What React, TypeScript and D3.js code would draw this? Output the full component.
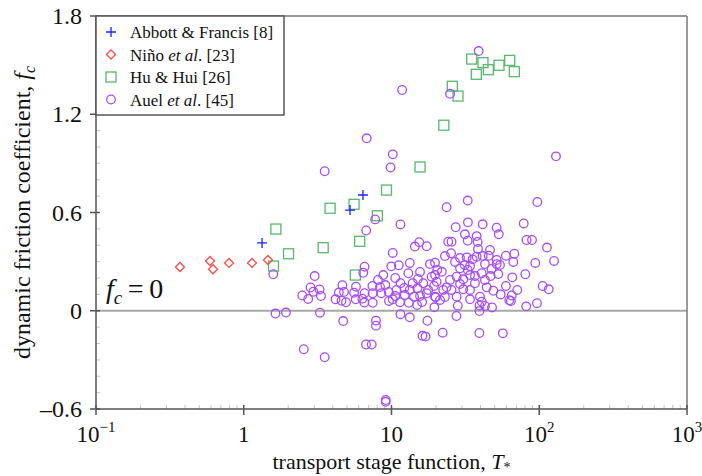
import * as d3 from 'd3';

const width = 702;
const height = 476;
const margin = {top: 16, right: 15, bottom: 67, left: 96};
const font = '"Liberation Serif", "Times New Roman", serif';

// series: Abbott & Francis [8]
const abbottT = [1.33, 5.24, 6.41];
const abbottF = [0.414, 0.615, 0.707];

// series: Niño et al. [23]
const ninoT = [0.370, 0.591, 0.619, 0.795, 1.137, 1.459];
const ninoF = [0.267, 0.304, 0.253, 0.292, 0.292, 0.310];

// series: Hu & Hui [26]
const huT = [1.65, 2.01, 1.59, 3.45, 3.84, 5.58, 8.02, 6.09, 9.25, 15.6, 22.6, 25.8, 28.2, 34.9, 37.5, 41.6, 45.2, 53.4, 63.1, 67.8, 5.69];
const huF = [0.499, 0.348, 0.273, 0.385, 0.626, 0.650, 0.580, 0.424, 0.737, 0.878, 1.133, 1.371, 1.311, 1.537, 1.444, 1.515, 1.472, 1.499, 1.529, 1.460, 0.218];

// series: Auel et al. [45]
const auelT = [
	6.79, 11.8, 38.9, 24.9, 10.2, 9.85, 129.8, 3.53, 32.8, 23.6, 97.0, 7.76, 11.5, 6.74, 14.4, 15.4, 17.3, 10.2,
	78.5, 82.0, 89.3, 112.8, 126, 94.0, 80.5, 105.5, 115.9, 96.5, 81.6,
	1.585, 3.02, 2.83, 3.26, 2.49, 2.73, 3.33, 2.96, 4.65, 4.40, 4.77, 4.18, 4.59, 4.92, 1.64, 1.93, 3.28, 4.71, 2.55, 3.53,
	6.57, 6.44, 5.58, 5.75, 6.57, 6.35, 6.55, 7.43, 7.46, 7.46, 8.80, 9.97, 11.2, 13.3, 15.6, 18.2,
	9.08, 9.57, 8.53, 10.8, 10.2, 11.5, 12.3, 11.4, 13.0, 13.9, 15.0, 13.1, 14.2, 16.4, 17.3, 16.1, 18.7, 19.4, 19.9, 19.5, 20.4, 5.73,
	7.85, 7.85, 11.5, 13.3, 17.5, 16.2, 17.0, 6.72, 7.35, 22.2, 27.5, 39.4, 39.3, 56.7, 9.14, 9.14,
	27.2, 32.9, 41.4, 51.5, 53.2, 31.4, 37.7, 38.3, 32.8, 24.2, 25.5, 25.3, 23.0, 19.7, 32.3, 35.4, 37.7, 41.4, 45.5, 51.5, 51.5,
	59.5, 67.8, 66.7, 31.3, 34.0, 29.1, 32.8, 40.8, 47.5, 52.8, 46.9, 21.9, 19.7, 27.6, 30.6, 36.7, 42.9, 44.1, 48.9, 59.5, 65.7,
	71.0, 54.8, 65.1, 62.7, 20.2, 23.6, 22.4, 25.5, 30.6, 27.6, 19.7, 34.0, 39.7, 40.8, 28.1, 39.4, 47.9, 42.9, 64.3,
	8.10, 10.6, 12.2, 15.1, 17.7, 9.62, 14.9, 21.3, 23.0, 24.9, 29.1, 34.0, 36.7, 26.9, 29.1, 42.9, 46.4, 54.2, 38.5, 34.0,
	8.36, 10.6, 13.3, 15.6
];
const auelF = [
	1.053, 1.348, 1.586, 1.325, 0.955, 0.875, 0.943, 0.852, 0.673, 0.632, 0.664, 0.558, 0.527, 0.490, 0.392, 0.419, 0.394, 0.353,
	0.533, 0.432, 0.432, 0.386, 0.304, 0.292, 0.223, 0.151, 0.131, 0.046, 0.027,
	0.223, 0.212, 0.142, 0.130, 0.093, 0.072, 0.090, 0.116, 0.156, 0.111, 0.115, 0.070, 0.061, 0.052, -0.017, -0.011, -0.012, -0.063, -0.235, -0.284,
	0.269, 0.232, 0.110, 0.147, 0.107, 0.074, 0.050, 0.151, 0.107, 0.049, 0.218, 0.271, 0.278, 0.292, 0.237, 0.285,
	0.157, 0.115, 0.107, 0.127, 0.070, 0.168, 0.096, 0.052, 0.229, 0.168, 0.137, 0.049, 0.086, 0.168, 0.107, 0.053, 0.208, 0.151, 0.082, 0.021, 0.249, 0.070,
	-0.060, -0.091, -0.021, -0.040, -0.061, -0.153, -0.158, -0.206, -0.206, -0.134, -0.032, -0.002, -0.136, -0.138, -0.545, -0.556,
	0.510, 0.540, 0.528, 0.507, 0.467, 0.467, 0.456, 0.420, 0.428, 0.422, 0.422, 0.351, 0.334, 0.293, 0.326, 0.314, 0.330, 0.334, 0.336, 0.310, 0.285,
	0.336, 0.348, 0.298, 0.279, 0.273, 0.259, 0.249, 0.229, 0.255, 0.224, 0.212, 0.238, 0.218, 0.208, 0.192, 0.168, 0.188, 0.143, 0.122, 0.151, 0.204,
	0.127, 0.100, 0.093, 0.064, 0.177, 0.143, 0.127, 0.127, 0.131, 0.086, 0.086, 0.070, 0.086, 0.055, 0.031, 0.032, 0.020, 0.029, 0.060,
	0.188, 0.200, 0.139, 0.194, 0.127, 0.060, 0.035, 0.066, 0.084, 0.188, 0.163, 0.127, 0.212, 0.298, 0.322, 0.285, 0.371, 0.280, 0.377, 0.218,
	0.145, 0.090, 0.127, 0.090
];

const xMajor = [0.1, 1, 10, 100, 1000];
const xMajorLabels = [['10', '\u22121'], ['1', ''], ['10', ''], ['10', '2'], ['10', '3']];
const yMajor = [-0.6, 0, 0.6, 1.2, 1.8];
const yMajorLabels = ['\u20130.6', '0', '0.6', '1.2', '1.8'];

const legendNames = ['Abbott & Francis [8]', 'Niño', 'Hu & Hui [26]', 'Auel'];

const colors = {abbott: '#1f1fff', nino: '#ff4a4a', hu: '#58b86c', auel: '#a64cf7'};

const Marker = ({kind, x, y}: {kind: string, x: number, y: number}) => {
	if (kind === 'abbott') {
		return <path d={`M${x - 5},${y}H${x + 5}M${x},${y - 5}V${y + 5}`} stroke={colors.abbott} strokeWidth={1.3} fill="none" />;
	}
	if (kind === 'nino') {
		return <path d={`M${x},${y - 4.5}L${x + 4.5},${y}L${x},${y + 4.5}L${x - 4.5},${y}Z`} stroke={colors.nino} strokeWidth={1.3} fill="none" />;
	}
	if (kind === 'hu') {
		return <rect x={x - 5} y={y - 5} width={10} height={10} stroke={colors.hu} strokeWidth={1.3} fill="none" />;
	}
	return <circle cx={x} cy={y} r={4.3} stroke={colors.auel} strokeWidth={1.3} fill="none" />;
};

export default function App() {
	const x = d3.scaleLog().domain([0.1, 1000]).range([margin.left, width - margin.right]);
	const y = d3.scaleLinear().domain([-0.6, 1.8]).range([height - margin.bottom, margin.top]);

	const x0 = margin.left;
	const x1 = width - margin.right;
	const yb = height - margin.bottom;
	const yt = margin.top;

	const xMinor: number[] = [];
	[0.1, 1, 10, 100].forEach(d => { for (let k = 2; k < 10; k++) xMinor.push(d * k); });
	const yMinor = d3.range(-6, 19).map(i => i / 10).filter(v => Math.abs(v * 10 % 6) > 1e-6);

	const series = [
		{kind: 'hu', t: huT, f: huF},
		{kind: 'auel', t: auelT, f: auelF},
		{kind: 'nino', t: ninoT, f: ninoF},
		{kind: 'abbott', t: abbottT, f: abbottF},
	];

	return (
		<svg width={width} height={height} style={{position: 'absolute', left: 0, top: 0, background: '#fff'}} fontFamily={font}>
			{/* minor ticks inside */}
			{xMinor.map(v => <line key={'xm' + v} x1={x(v)} x2={x(v)} y1={yb} y2={yb - 4} stroke="#c4c4c4" />)}
			{yMinor.map(v => <line key={'ym' + v} x1={x0} x2={x0 + 4} y1={y(v)} y2={y(v)} stroke="#c4c4c4" />)}

			{/* zero line */}
			<line x1={x0} x2={x1} y1={y(0)} y2={y(0)} stroke="#a8a8a8" strokeWidth={2} />

			{/* frame */}
			<line x1={x0} x2={x1} y1={yt} y2={yt} stroke="#777" strokeWidth={1.5} />
			<line x1={x1} x2={x1} y1={yt} y2={yb} stroke="#777" strokeWidth={1.5} />
			<line x1={x0} x2={x1} y1={yb} y2={yb} stroke="#555" strokeWidth={1.5} />
			<line x1={x0} x2={x0} y1={yt} y2={yb} stroke="#555" strokeWidth={1.5} />

			{/* major ticks */}
			{xMajor.map(v => <line key={'xt' + v} x1={x(v)} x2={x(v)} y1={yb - 4} y2={yb + 6} stroke="#555" strokeWidth={1.5} />)}
			{yMajor.map(v => <line key={'yt' + v} x1={x0 - 6} x2={x0 + 4} y1={y(v)} y2={y(v)} stroke="#555" strokeWidth={1.5} />)}

			{/* tick labels */}
			{xMajor.map((v, i) => (
				<text key={'xl' + v} x={x(v)} y={yb + 33} textAnchor="middle" fontSize={23} fill="#111">
					{xMajorLabels[i][0]}
					{xMajorLabels[i][1] && <tspan fontSize={15} dy={-10}>{xMajorLabels[i][1]}</tspan>}
				</text>
			))}
			{yMajor.map((v, i) => (
				<text key={'yl' + v} x={x0 - 14} y={y(v) + 8} textAnchor="end" fontSize={24} fill="#111">{yMajorLabels[i]}</text>
			))}

			{/* axis titles */}
			<text x={(x0 + x1) / 2} y={469} textAnchor="middle" fontSize={22} fill="#111">
				transport stage function, <tspan fontStyle="italic">T</tspan><tspan fontSize={14} dy={3}>*</tspan>
			</text>
			<text transform={`translate(30,${(yt + yb) / 2}) rotate(-90)`} textAnchor="middle" fontSize={24} fill="#111">
				dynamic friction coefficient, <tspan fontStyle="italic">f</tspan><tspan fontStyle="italic" fontSize={16} dy={5}>c</tspan>
			</text>

			{/* f_c = 0 label */}
			<text x={106} y={298} fontSize={28} fill="#111">
				<tspan fontStyle="italic">f</tspan><tspan fontStyle="italic" fontSize={19} dy={6}>c</tspan><tspan dy={-6}>{'\u2009=\u20090'}</tspan>
			</text>

			{/* data */}
			{series.map(s => (
				<g key={s.kind}>
					{s.t.map((t, i) => <Marker key={i} kind={s.kind} x={x(t)} y={y(s.f[i])} />)}
				</g>
			))}

			{/* legend */}
			<rect x={x0} y={yt} width={188} height={99} fill="#fff" stroke="#555" strokeWidth={1.5} />
			{['abbott', 'nino', 'hu', 'auel'].map((k, i) => {
				const ly = 32 + i * 22.5;
				return (
					<g key={k}>
						<Marker kind={k} x={111} y={ly} />
						<text x={130} y={ly + 6} fontSize={17} fill="#111">
							{k === 'nino' ? <>Niño <tspan fontStyle="italic">et al</tspan>. [23]</> :
								k === 'auel' ? <>Auel <tspan fontStyle="italic">et al</tspan>. [45]</> : legendNames[i]}
						</text>
					</g>
				);
			})}
		</svg>
	);
}
